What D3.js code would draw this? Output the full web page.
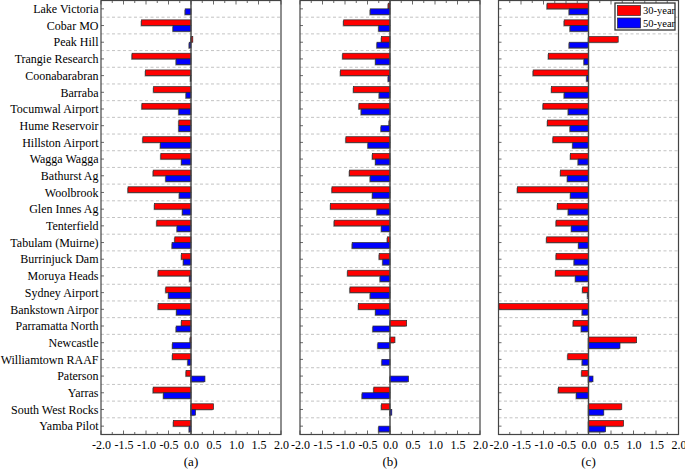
<!DOCTYPE html>
<html>
<head>
<meta charset="utf-8">
<script src="https://cdn.jsdelivr.net/npm/d3@7"></script>
<style>
  body { margin: 0; background: #fff; }
  text { font-family: "Liberation Serif", "Times New Roman", serif; fill: #000; }
</style>
</head>
<body>
<div id="chart"></div>
<script>
// stations, top to bottom
const stations = [
  "Lake Victoria", "Cobar MO", "Peak Hill", "Trangie Research", "Coonabarabran",
  "Barraba", "Tocumwal Airport", "Hume Reservoir", "Hillston Airport", "Wagga Wagga",
  "Bathurst Ag", "Woolbrook", "Glen Innes Ag", "Tenterfield", "Tabulam (Muirne)",
  "Burrinjuck Dam", "Moruya Heads", "Sydney Airport", "Bankstown Airpor", "Parramatta North",
  "Newcastle", "Williamtown RAAF", "Paterson", "Yarras", "South West Rocks", "Yamba Pilot"
];
const series = ["30-year", "50-year"];
const seriesColors = ["#ff0000", "#0000ff"];
const xTicks = [-2.0, -1.5, -1.0, -0.5, 0.0, 0.5, 1.0, 1.5, 2.0];
const panelLabels = ["(a)", "(b)", "(c)"];

// panel (a)
const a30 = [0, -1.10, 0.04, -1.31, -1.01, -0.83, -1.09, -0.27, -1.07, -0.67,
  -0.84, -1.40, -0.81, -0.76, -0.36, -0.21, -0.73, -0.56, -0.73, -0.21,
  -0.02, -0.41, -0.11, -0.84, 0.50, -0.39];
const a50 = [-0.13, -0.40, -0.04, -0.33, -0.01, -0.11, -0.27, -0.27, -0.68, -0.21,
  -0.56, -0.26, -0.19, -0.31, -0.42, -0.17, -0.03, -0.50, -0.32, -0.33,
  -0.41, -0.07, 0.31, -0.61, 0.10, -0.04];
// panel (b)
const b30 = [-0.04, -1.03, -0.19, -1.05, -1.10, -0.81, -0.69, -0.02, -0.98, -0.39,
  -0.90, -1.29, -1.32, -1.24, -0.06, -0.24, -0.94, -0.89, -0.70, 0.37,
  0.11, 0, 0, -0.36, -0.19, 0];
const b50 = [-0.44, -0.25, -0.29, -0.32, -0.04, -0.24, -0.64, -0.20, -0.49, -0.32,
  -0.44, -0.39, -0.29, -0.19, -0.84, -0.16, -0.22, -0.44, -0.32, -0.38,
  -0.27, -0.18, 0.41, -0.62, 0.04, -0.25];
// panel (c)
const c30 = [-0.92, -0.54, 0.66, -0.89, -1.23, -0.82, -1.01, -0.91, -0.79, -0.40,
  -0.62, -1.58, -0.69, -0.72, -0.93, -0.72, -0.73, -0.13, -1.99, -0.34,
  1.07, -0.46, -0.15, -0.67, 0.74, 0.78];
const c50 = [-0.43, -0.41, -0.43, -0.10, -0.04, -0.54, -0.45, -0.41, -0.35, -0.23,
  -0.47, -0.40, -0.45, -0.38, -0.22, -0.32, -0.29, -0.02, -0.14, -0.16,
  0.70, -0.14, 0.10, -0.27, 0.34, 0.38];

const panels = [
  { label: panelLabels[0], values: [a30, a50] },
  { label: panelLabels[1], values: [b30, b50] },
  { label: panelLabels[2], values: [c30, c50] }
];

const width = 685, height = 469;
const plotTop = 0.5, plotBottom = 434.5;
const panelLeft = [101, 300, 498.5];
const panelW = 180;

const svg = d3.select("#chart").append("svg")
  .attr("width", width)
  .attr("height", height);

const y = d3.scaleBand().domain(stations).range([plotTop, plotBottom]);
const bw = y.bandwidth();
const ySub = d3.scaleBand().domain(series).range([bw * 0.16, bw * 0.84]);
const color = d3.scaleOrdinal().domain(series).range(seriesColors);

panels.forEach((p, pi) => {
  const x = d3.scaleLinear().domain([-2, 2]).range([0, panelW]);
  const g = svg.append("g").attr("transform", "translate(" + panelLeft[pi] + ",0)");

  // dashed separators between rows
  g.selectAll(".sep")
    .data(stations.slice(1))
    .join("line")
    .attr("class", "sep")
    .attr("x1", 0).attr("x2", panelW)
    .attr("y1", (d) => y(d)).attr("y2", (d) => y(d))
    .attr("stroke", "#b4b4b4")
    .attr("stroke-width", 0.8)
    .attr("stroke-dasharray", "3,2.5");

  const rows = stations.flatMap((st, i) =>
    series.map((s, si) => ({ station: st, series: s, value: p.values[si][i] }))
  ).filter((d) => d.value !== 0);

  const barX = (d) => x(Math.min(0, d.value));
  const barW = (d) => Math.abs(x(d.value) - x(0));

  // soft shadow
  g.selectAll(".shadow")
    .data(rows)
    .join("rect")
    .attr("class", "shadow")
    .attr("x", (d) => barX(d) - 1)
    .attr("y", (d) => y(d.station) + ySub(d.series) + 1)
    .attr("width", barW)
    .attr("height", ySub.bandwidth())
    .attr("fill", "#a0a0a0");

  g.selectAll(".bar")
    .data(rows)
    .join("rect")
    .attr("class", "bar")
    .attr("x", barX)
    .attr("y", (d) => y(d.station) + ySub(d.series))
    .attr("width", barW)
    .attr("height", ySub.bandwidth())
    .attr("fill", (d) => color(d.series))
    .attr("stroke", "#2a2a2a")
    .attr("stroke-width", 0.7);

  // zero line
  g.append("line")
    .attr("x1", x(0)).attr("x2", x(0))
    .attr("y1", plotTop).attr("y2", plotBottom)
    .attr("stroke", "#444")
    .attr("stroke-width", 1.4);

  // frame
  g.append("rect")
    .attr("x", 0).attr("y", plotTop)
    .attr("width", panelW).attr("height", plotBottom - plotTop)
    .attr("fill", "none")
    .attr("stroke", "#444")
    .attr("stroke-width", 1.2);

  // bottom axis: labels, inward ticks
  const xAxis = d3.axisBottom(x)
    .tickValues(xTicks)
    .tickSize(0)
    .tickPadding(6)
    .tickFormat((d) => d.toFixed(1));
  const ax = g.append("g")
    .attr("transform", "translate(0," + plotBottom + ")")
    .call(xAxis);
  ax.select(".domain").remove();
  ax.selectAll("text")
    .style("font-family", "'Liberation Serif', 'Times New Roman', serif")
    .style("font-size", "12px");

  const minor = d3.range(-2, 2.001, 0.25);
  [plotBottom, plotTop].forEach((yy, k) => {
    g.selectAll(".mt" + k)
      .data(minor)
      .join("line")
      .attr("x1", (d) => x(d)).attr("x2", (d) => x(d))
      .attr("y1", yy)
      .attr("y2", (d) => yy + (k === 0 ? -1 : 1) * (Math.abs(d * 2 - Math.round(d * 2)) < 1e-6 ? 4 : 2.5))
      .attr("stroke", "#444")
      .attr("stroke-width", 0.8);
  });

  // row ticks on left edge, pointing inward
  g.selectAll(".rt")
    .data(stations)
    .join("line")
    .attr("x1", 0).attr("x2", 3)
    .attr("y1", (d) => y(d) + bw / 2).attr("y2", (d) => y(d) + bw / 2)
    .attr("stroke", "#444")
    .attr("stroke-width", 0.8);

  // panel label
  g.append("text")
    .attr("x", x(0))
    .attr("y", 466)
    .attr("text-anchor", "middle")
    .style("font-size", "13px")
    .text(p.label);
});

// station names to the left of panel (a)
svg.append("g")
  .selectAll("text")
  .data(stations)
  .join("text")
  .attr("x", panelLeft[0] - 2.5)
  .attr("y", (d) => y(d) + bw / 2)
  .attr("dy", "0.35em")
  .attr("text-anchor", "end")
  .style("font-size", "12px")
  .text((d) => d);

// legend inside panel (c)
const legend = svg.append("g").attr("transform", "translate(615,3)");
legend.append("rect")
  .attr("x", 0).attr("y", 0)
  .attr("width", 60).attr("height", 27)
  .attr("fill", "#fff")
  .attr("stroke", "#333")
  .attr("stroke-width", 1.3);
series.forEach((s, i) => {
  legend.append("rect")
    .attr("x", 2.5).attr("y", 2.5 + i * 12.5)
    .attr("width", 23).attr("height", 10)
    .attr("fill", color(s))
    .attr("stroke", "#2a2a2a")
    .attr("stroke-width", 0.7);
  legend.append("text")
    .attr("x", 28).attr("y", 7.5 + i * 12.5)
    .attr("dy", "0.35em")
    .style("font-size", "10.5px")
    .text(s);
});
</script>
</body>
</html>
